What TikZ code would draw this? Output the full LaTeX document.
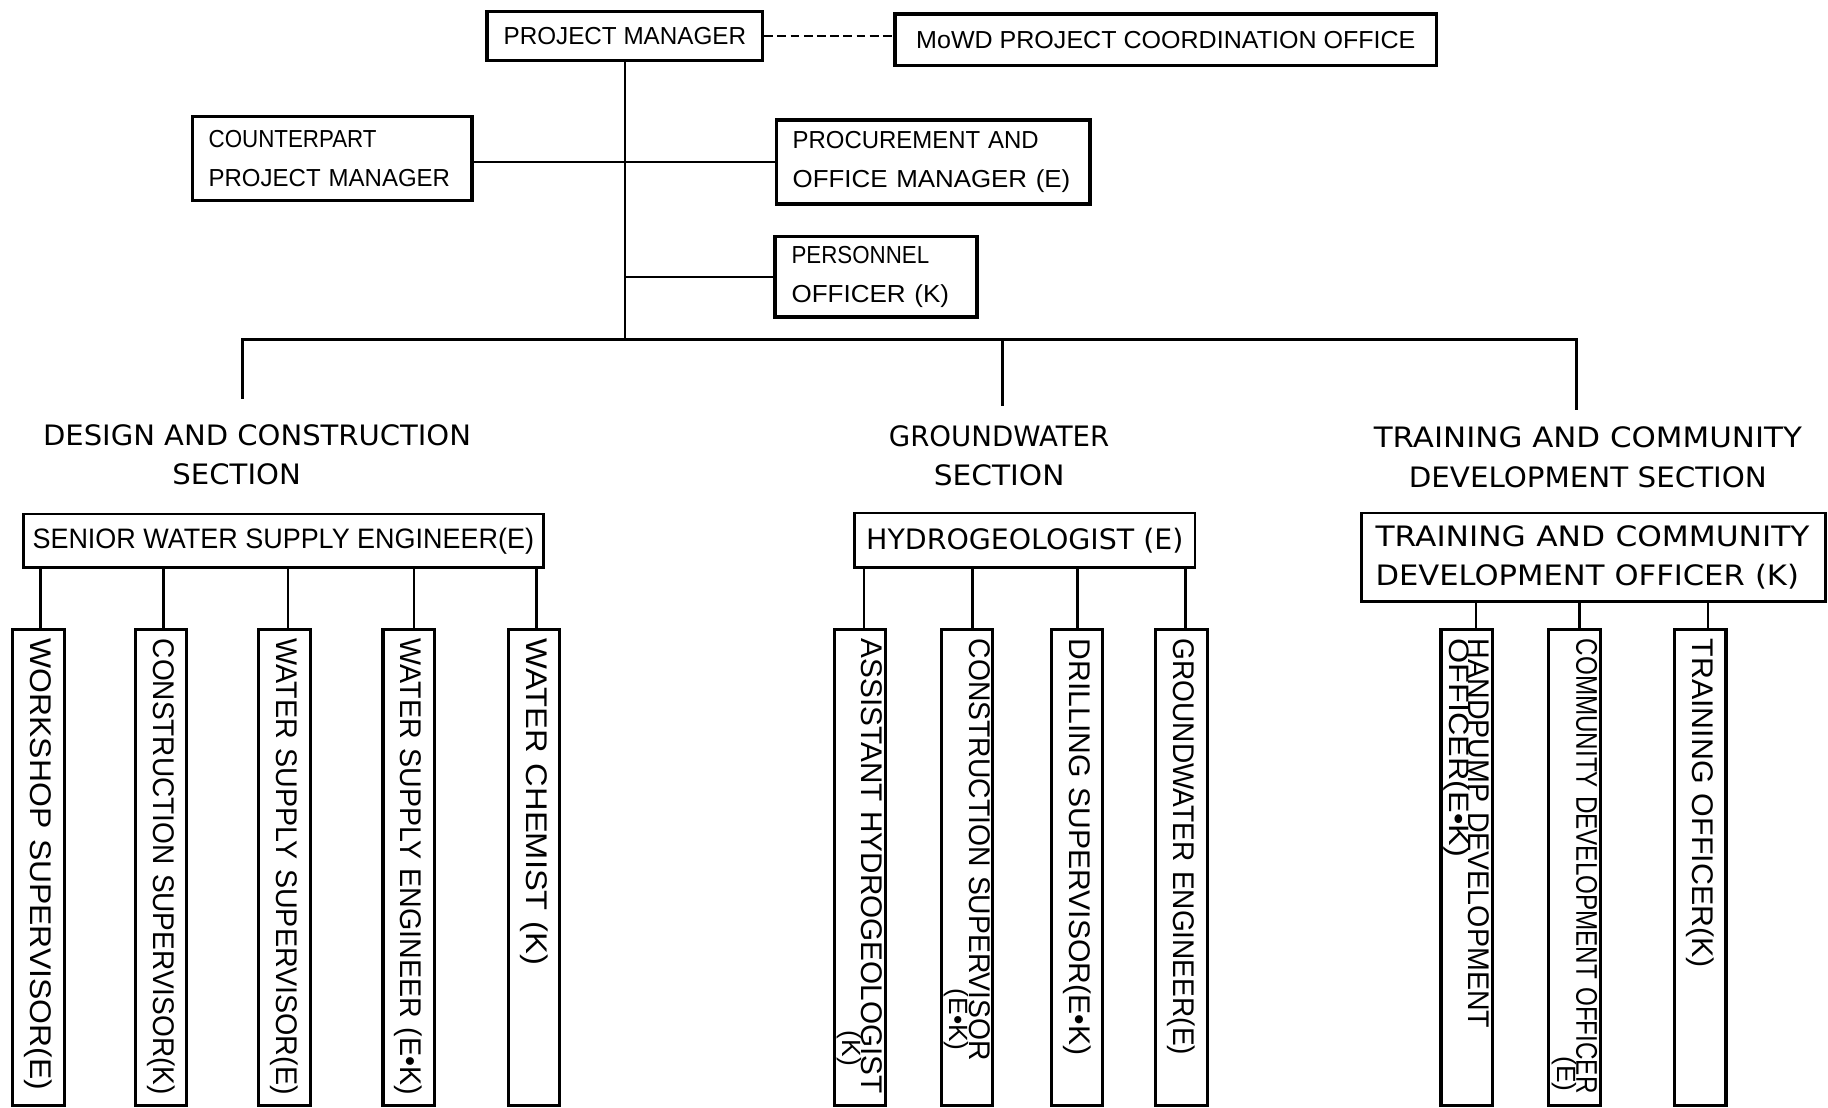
\documentclass[tikz,border=0pt]{standalone}
\usepackage{fontspec}
\usepackage{graphicx}
\setmainfont{Liberation Sans}
\newfontfamily\geo{DejaVu Sans}
\newdimen\pxu \pxu=0.6637pt
\newlength\fitlen
\newcommand\fitto[2]{\settowidth{\fitlen}{#2}\pgfmathsetmacro\fitfac{#1*\pxu/\fitlen}\scalebox{\fitfac}[1]{#2}}
\tikzset{
  topbox/.style={draw, line width=2pt, inner sep=0pt, font=\fontsize{14}{22}\selectfont},
  lead/.style={draw, line width=1.5pt, inner sep=0pt},
  vbox/.style={draw, line width=1.8pt, rotate=-90, inner xsep=8\pxu, inner ysep=0pt,
    minimum height=44\pxu, text width=392\pxu, align=left, font=\fontsize{17}{17}\selectfont},
  link/.style={line width=1.5pt},
  dashlink/.style={line width=1.3pt, dash pattern=on 5pt off 2.5pt},
  head/.style={align=center, inner sep=0pt, font=\geo\fontsize{16}{22.6}\selectfont}
}
\begin{document}
\begin{tikzpicture}[x=0.02332cm, y=-0.02332cm]
\useasboundingbox (0,0) rectangle (1568,950);

% top level
\node[topbox, minimum width=236\pxu, minimum height=42\pxu] (pm) at (536,31) {\fitto{208}{PROJECT MANAGER}};
\node[topbox, minimum width=464\pxu, minimum height=44\pxu] (mowd) at (1000,34) {\fitto{428}{MoWD PROJECT COORDINATION OFFICE}};
\node[topbox, minimum height=72\pxu, text width=212\pxu, inner xsep=14\pxu, align=left] (cpm) at (285,136)
  {\fitto{144}{COUNTERPART}\\\fitto{207}{PROJECT MANAGER}};
\node[topbox, minimum height=72\pxu, text width=241\pxu, inner xsep=14\pxu, align=left] (proc) at (800.5,139)
  {\fitto{211}{PROCUREMENT AND}\\\fitto{238}{OFFICE MANAGER (E)}};
\node[topbox, minimum height=69\pxu, text width=145\pxu, inner xsep=14\pxu, align=left] (pers) at (751.5,237.5)
  {\fitto{118}{PERSONNEL}\\\fitto{135}{OFFICER (K)}};

\draw[dashlink] (pm.east) -- (pm.east -| mowd.west);
\coordinate (b1) at (208,291);
\coordinate (b2) at (860,291);
\coordinate (b3) at (1352,291);
\coordinate (e1) at (208,342);
\coordinate (e2) at (860,348);
\coordinate (e3) at (1352,352);
\draw[link] (pm.south) -- (pm.south |- b1);
\draw[link] (cpm.east |- proc.west) -- (proc.west);
\draw[link] (pm.south |- pers.west) -- (pers.west);
\draw[link] (e1) -- (b1) -- (b3) -- (e3);
\draw[link] (b2) -- (e2);

% section headings
\node[head] (h1) at (220.5,390) {\fitto{367}{DESIGN AND CONSTRUCTION}\\\fitto{110}{SECTION}\hspace*{35\pxu}};
\node[head] (h2) at (857,391) {\fitto{189}{GROUNDWATER}\\\fitto{112}{SECTION}};
\node[head] (h3) at (1362,392.5) {\fitto{367}{TRAINING AND COMMUNITY}\\\fitto{307}{DEVELOPMENT SECTION}};

% section leaders
\node[lead, minimum width=446\pxu, minimum height=46\pxu, font=\fontsize{16}{16}\selectfont] (swse) at (243,464)
  {\fitto{430}{SENIOR WATER SUPPLY ENGINEER(E)}};
\node[lead, minimum width=292\pxu, minimum height=47\pxu, font=\geo\fontsize{16}{16}\selectfont] (hyd) at (879,463.5)
  {\fitto{272}{HYDROGEOLOGIST (E)}};
\node[lead, minimum height=76\pxu, text width=374\pxu, inner xsep=12\pxu, align=left, font=\geo\fontsize{16}{22}\selectfont] (tcdo) at (1367,478)
  {\fitto{372}{TRAINING AND COMMUNITY}\\\fitto{363}{DEVELOPMENT OFFICER (K)}};

% design and construction staff
\node[vbox] (d1) at (33,744) {\fitto{387}{WORKSHOP SUPERVISOR(E)}};
\node[vbox] (d2) at (138,744) {\fitto{391}{CONSTRUCTION SUPERVISOR(K)}};
\node[vbox] (d3) at (244,744) {\fitto{391}{WATER SUPPLY SUPERVISOR(E)}};
\node[vbox] (d4) at (350.5,744) {\fitto{391}{WATER SUPPLY ENGINEER (E•K)}};
\node[vbox] (d5) at (458,744) {\fitto{280}{WATER CHEMIST (K)}};

% groundwater staff
\node[vbox] (g1) at (737.5,744) {\fitto{390}{ASSISTANT HYDROGEOLOGIST}\\[-6pt]\hspace*{336\pxu}{\fontsize{15}{15}\selectfont(K)}};
\node[vbox] (g2) at (829.5,744) {\fitto{362}{CONSTRUCTION SUPERVISOR}\\[-6pt]\hspace*{300\pxu}{\fontsize{15}{15}\selectfont(E•K)}};
\node[vbox] (g3) at (924,744) {\fitto{357}{DRILLING SUPERVISOR(E•K)}};
\node[vbox] (g4) at (1013.5,744) {\fitto{357}{GROUNDWATER ENGINEER(E)}};

% training staff
\node[vbox] (t1) at (1258,744) {\fitto{334}{HANDPUMP DEVELOPMENT}\\[-6pt]{\fontsize{16}{16}\selectfont\fitto{187}{OFFICER(E•K)}}};
\node[vbox] (t2) at (1350.5,744) {\fitto{390}{COMMUNITY DEVELOPMENT OFFICER}\\[-6pt]\hspace*{358\pxu}{\fontsize{15}{15}\selectfont(E)}};
\node[vbox] (t3) at (1458.5,744) {\fitto{282}{TRAINING OFFICER(K)}};

\foreach \n/\s/\p in {d1/2/swse, d2/2/swse, d3/3/swse, d4/4.5/swse, d5/2/swse,
                      g1/3.5/hyd, g2/4.5/hyd, g3/0/hyd, g4/3.5/hyd,
                      t1/8/tcdo, t2/4.5/tcdo, t3/6.5/tcdo}{
  \path ([xshift=\s\pxu]\n.west) coordinate (\n-t);
  \draw[link] (\n-t) -- (\n-t |- \p.south);
}
\end{tikzpicture}
\end{document}
